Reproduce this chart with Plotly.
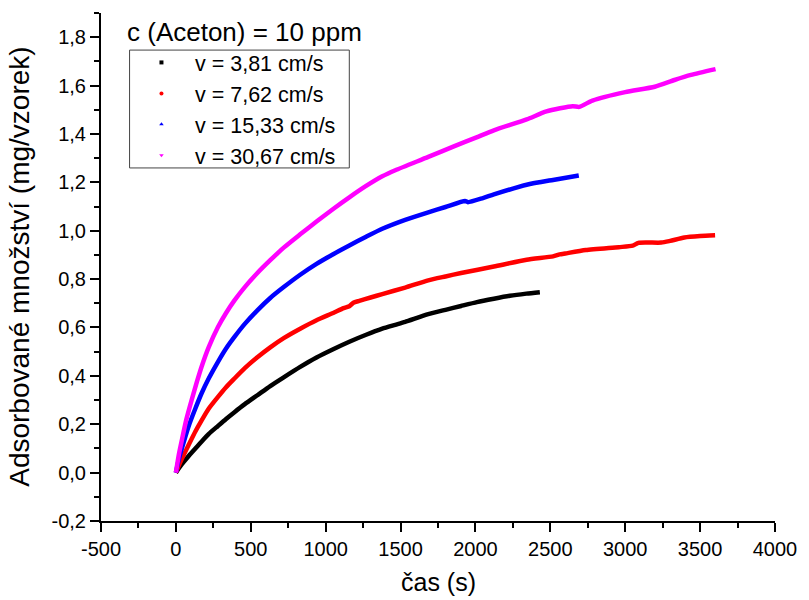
import plotly.graph_objects as go

# Adsorption of acetone (10 ppm) at four flow velocities
t_381 = [0, 20, 40, 84, 130, 171, 220, 281, 335, 391, 460, 544, 630, 720, 830, 939, 1050, 1158, 1270,
         1378, 1465, 1531, 1685, 1800, 1904, 2010, 2123, 2230, 2340, 2430]
q_381 = [0, 0.018, 0.035, 0.068, 0.100, 0.128, 0.160, 0.193, 0.222, 0.250, 0.283, 0.320, 0.358, 0.394,
         0.437, 0.476, 0.510, 0.541, 0.570, 0.595, 0.611, 0.623, 0.655, 0.673, 0.689, 0.705, 0.719,
         0.731, 0.740, 0.746]

t_762 = [0, 20, 40, 84, 130, 171, 220, 281, 335, 391, 460, 544, 630, 720, 830, 939, 1050, 1120, 1158,
         1185, 1224, 1300, 1378, 1531, 1685, 1800, 1904, 2123, 2342, 2518, 2562, 2600, 2737, 2957,
         3050, 3088, 3241, 3300, 3395, 3500, 3600]
q_762 = [0, 0.030, 0.057, 0.113, 0.170, 0.215, 0.265, 0.313, 0.353, 0.389, 0.432, 0.477, 0.518, 0.556,
         0.595, 0.630, 0.660, 0.680, 0.688, 0.702, 0.710, 0.724, 0.738, 0.765, 0.795, 0.811, 0.825,
         0.852, 0.880, 0.894, 0.902, 0.906, 0.920, 0.932, 0.938, 0.950, 0.951, 0.958, 0.972, 0.978,
         0.981]

t_1533 = [0, 20, 40, 84, 130, 171, 220, 281, 335, 391, 460, 544, 630, 720, 830, 939, 1050, 1158, 1270,
          1378, 1531, 1685, 1800, 1930, 1950, 2050, 2123, 2342, 2518, 2690]
q_1533 = [0, 0.055, 0.100, 0.190, 0.265, 0.327, 0.390, 0.458, 0.513, 0.561, 0.615, 0.671, 0.722, 0.767,
          0.818, 0.863, 0.903, 0.939, 0.975, 1.008, 1.045, 1.076, 1.098, 1.123, 1.118, 1.135, 1.150,
          1.190, 1.210, 1.228]

t_3067 = [0, 20, 40, 70, 105, 140, 171, 220, 281, 335, 391, 460, 544, 630, 720, 830, 939, 1050, 1158,
          1270, 1378, 1465, 1685, 1860, 2003, 2123, 2342, 2474, 2649, 2693, 2781, 3000, 3197, 3329,
          3439, 3603]
q_3067 = [0, 0.075, 0.135, 0.220, 0.300, 0.375, 0.437, 0.520, 0.602, 0.660, 0.712, 0.767, 0.825, 0.878,
          0.930, 0.985, 1.038, 1.090, 1.138, 1.185, 1.225, 1.250, 1.305, 1.350, 1.385, 1.415, 1.460,
          1.493, 1.515, 1.512, 1.538, 1.573, 1.595, 1.623, 1.644, 1.668]

series_names = ["v = 3,81 cm/s", "v = 7,62 cm/s", "v = 15,33 cm/s", "v = 30,67 cm/s"]
series_colors = ["#000000", "#ff0000", "#0000ff", "#ff00ff"]
series_symbols = ["square", "circle", "triangle-up", "triangle-down"]

x_tickvals = [-500, 0, 500, 1000, 1500, 2000, 2500, 3000, 3500, 4000]
x_ticktext = ["-500", "0", "500", "1000", "1500", "2000", "2500", "3000", "3500", "4000"]
y_tickvals = [-0.2, 0.0, 0.2, 0.4, 0.6, 0.8, 1.0, 1.2, 1.4, 1.6, 1.8]
y_ticktext = ["-0,2", "0,0", "0,2", "0,4", "0,6", "0,8", "1,0", "1,2", "1,4", "1,6", "1,8"]

FONT = "Liberation Sans, Arial, sans-serif"

fig = go.Figure()
data = [(t_381, q_381), (t_762, q_762), (t_1533, q_1533), (t_3067, q_3067)]
for (t, q), color in zip(data, series_colors):
    fig.add_trace(go.Scatter(x=t, y=q, mode="lines",
                             line=dict(color=color, width=4.5, shape="spline", smoothing=0.6),
                             showlegend=False, hoverinfo="skip"))

# legend entries: small point symbols only
for name, color, sym in zip(series_names, series_colors, series_symbols):
    fig.add_trace(go.Scatter(x=[None], y=[None], mode="markers", name=name,
                             marker=dict(color=color, symbol=sym, size=4, line=dict(width=0))))

axis_common = dict(
    showline=True, linecolor="black", linewidth=2, showgrid=False, zeroline=False,
    ticks="outside", ticklen=9, tickwidth=1.5, tickcolor="black",
    tickfont=dict(family=FONT, size=20, color="black"), tickmode="array",
)

fig.update_xaxes(range=[-500, 4000], tickvals=x_tickvals, ticktext=x_ticktext,
                 minor=dict(dtick=250, tick0=0, ticks="outside", ticklen=5, tickwidth=1.5,
                            tickcolor="black", showgrid=False),
                 **axis_common)
fig.update_yaxes(range=[-0.2, 1.9], tickvals=y_tickvals, ticktext=y_ticktext,
                 minor=dict(dtick=0.1, tick0=0, ticks="outside", ticklen=5, tickwidth=1.5,
                            tickcolor="black", showgrid=False),
                 **axis_common)

fig.update_layout(
    width=809, height=600,
    margin=dict(l=101, r=24, t=13, b=79),
    paper_bgcolor="white", plot_bgcolor="white",
    font=dict(family=FONT, color="black"),
    legend=dict(x=0.04, y=0.943, xanchor="left", yanchor="top",
                borderwidth=0, bgcolor="rgba(0,0,0,0)",
                font=dict(family=FONT, size=21.5, color="black"),
                itemwidth=57, tracegroupgap=0),
    shapes=[
        dict(type="rect", xref="paper", yref="paper", x0=0.0424, x1=0.3684, y0=0.695, y1=0.927,
             line=dict(color="#444444", width=1), fillcolor="rgba(0,0,0,0)", layer="above"),
    ],
    annotations=[
        dict(text="čas (s)", xref="paper", yref="paper", x=0.5, y=-0.12,
             xanchor="center", yanchor="middle", showarrow=False,
             font=dict(family=FONT, size=25, color="black")),
        dict(text="Adsorbované množství (mg/vzorek)", xref="paper", yref="paper",
             x=-0.122, y=0.5, xanchor="center", yanchor="middle", textangle=-90,
             showarrow=False, font=dict(family=FONT, size=28, color="black")),
        dict(text="c (Aceton) = 10 ppm", xref="paper", yref="paper", x=0.036, y=0.9626,
             xanchor="left", yanchor="middle", showarrow=False,
             font=dict(family=FONT, size=26, color="black")),
    ],
)

fig.write_html("out.html")
